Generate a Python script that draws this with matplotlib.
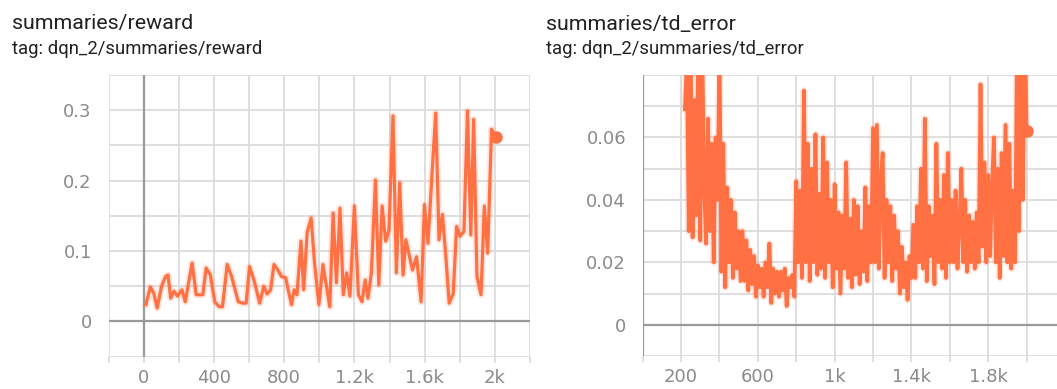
import numpy as np
import matplotlib
matplotlib.use('Agg')
import matplotlib.pyplot as plt
from matplotlib.ticker import FixedLocator, FixedFormatter

plt.rcParams['font.family'] = ['Roboto', 'DejaVu Sans']

# reward panel (smoothed curve)
reward_steps = [13, 38, 58, 77, 102, 125, 139, 154, 173, 193, 218, 237, 276, 299, 337,
                356, 380, 405, 430, 449, 476, 501, 539, 565, 584, 603, 630, 661, 684, 703,
                723, 742, 765, 784, 809, 823, 842, 857, 873, 896, 911, 931, 954, 973, 998,
                1021, 1060, 1079, 1098, 1118, 1137, 1156, 1175, 1200, 1223, 1243, 1262, 1277,
                1297, 1320, 1339, 1358, 1378, 1397, 1420, 1439, 1458, 1477, 1493, 1531, 1554,
                1580, 1599, 1619, 1638, 1663, 1682, 1701, 1720, 1740, 1763, 1782, 1801, 1824,
                1844, 1863, 1879, 1898, 1921, 1940, 1959, 1981, 2004]
reward_vals = [0.024, 0.049, 0.040, 0.019, 0.050, 0.064, 0.066, 0.033, 0.043, 0.036, 0.045,
               0.028, 0.083, 0.038, 0.038, 0.076, 0.066, 0.028, 0.021, 0.021, 0.081, 0.064,
               0.028, 0.026, 0.026, 0.078, 0.057, 0.026, 0.050, 0.039, 0.045, 0.081, 0.073,
               0.064, 0.062, 0.045, 0.024, 0.045, 0.038, 0.114, 0.045, 0.126, 0.147, 0.083,
               0.024, 0.081, 0.021, 0.154, 0.055, 0.161, 0.038, 0.069, 0.036, 0.164, 0.038,
               0.028, 0.059, 0.033, 0.069, 0.201, 0.052, 0.164, 0.114, 0.130, 0.292, 0.069,
               0.197, 0.066, 0.116, 0.073, 0.092, 0.028, 0.166, 0.111, 0.192, 0.296, 0.116,
               0.152, 0.095, 0.026, 0.040, 0.135, 0.121, 0.128, 0.299, 0.123, 0.287, 0.064,
               0.038, 0.164, 0.097, 0.273, 0.262]

# td_error panel, one value every 10 steps from 220 to 2000
td_steps = list(range(220, 2001, 10))
td_vals = [
    0.069, 0.085, 0.030, 0.090, 0.028, 0.072, 0.035, 0.095, 0.027, 0.090,   # 220-310
    0.045, 0.026, 0.066, 0.030, 0.058, 0.020, 0.060, 0.040, 0.088, 0.017,   # 320-410
    0.058, 0.012, 0.044, 0.020, 0.040, 0.015, 0.036, 0.018, 0.030, 0.014,   # 420-510
    0.030, 0.014, 0.027, 0.011, 0.024, 0.013, 0.022, 0.009, 0.019, 0.012,   # 520-610
    0.018, 0.009, 0.020, 0.012, 0.026, 0.007, 0.018, 0.010, 0.017, 0.009,   # 620-710
    0.017, 0.011, 0.018, 0.006, 0.015, 0.012, 0.016, 0.009, 0.046, 0.020,   # 720-810
    0.043, 0.015, 0.075, 0.020, 0.058, 0.014, 0.050, 0.020, 0.061, 0.016,   # 820-910
    0.042, 0.018, 0.060, 0.015, 0.052, 0.020, 0.040, 0.012, 0.045, 0.018,   # 920-1010
    0.036, 0.010, 0.035, 0.018, 0.052, 0.015, 0.034, 0.012, 0.040, 0.016,   # 1020-1110
    0.038, 0.013, 0.030, 0.017, 0.044, 0.014, 0.038, 0.020, 0.063, 0.020,   # 1120-1210
    0.064, 0.018, 0.045, 0.055, 0.015, 0.040, 0.020, 0.038, 0.014, 0.035,   # 1220-1310
    0.018, 0.030, 0.010, 0.025, 0.012, 0.020, 0.008, 0.022, 0.015, 0.032,   # 1320-1410
    0.015, 0.038, 0.020, 0.050, 0.018, 0.066, 0.014, 0.038, 0.022, 0.035,   # 1420-1510
    0.013, 0.058, 0.020, 0.040, 0.018, 0.048, 0.015, 0.055, 0.020, 0.040,   # 1520-1610
    0.020, 0.043, 0.018, 0.032, 0.050, 0.020, 0.040, 0.017, 0.035, 0.020,   # 1620-1710
    0.033, 0.018, 0.036, 0.020, 0.077, 0.025, 0.052, 0.020, 0.048, 0.022,   # 1720-1810
    0.045, 0.060, 0.020, 0.050, 0.015, 0.055, 0.022, 0.064, 0.020, 0.058,   # 1820-1910
    0.018, 0.043, 0.020, 0.090, 0.030, 0.100, 0.040, 0.095, 0.062,          # 1920-2000
]

line_color = '#ff7043'
W, H = 1057, 389
fig = plt.figure(figsize=(W / 100, H / 100), dpi=100)


def setup(ax, xlim, ylim, xmajor, xlabels, xminor, ymajor, ylabels, yminor):
    ax.set_xlim(*xlim)
    ax.set_ylim(*ylim)
    ax.xaxis.set_major_locator(FixedLocator(xmajor))
    ax.xaxis.set_major_formatter(FixedFormatter(xlabels))
    ax.xaxis.set_minor_locator(FixedLocator(xminor))
    ax.yaxis.set_major_locator(FixedLocator(ymajor))
    ax.yaxis.set_major_formatter(FixedFormatter(ylabels))
    ax.yaxis.set_minor_locator(FixedLocator(yminor))
    for s in ax.spines.values():
        s.set_visible(False)
    ax.grid(True, which='both', color='#dcdcdc', lw=1.3)
    ax.set_axisbelow(True)
    ax.tick_params(axis='x', which='both', length=4, color='#dcdcdc', width=1.3,
                   labelsize=13, labelcolor='#8a8a8a', pad=5)
    ax.tick_params(axis='y', which='both', length=0, labelsize=13,
                   labelcolor='#8a8a8a', pad=12)
    for lab in ax.get_xticklabels() + ax.get_yticklabels():
        lab.set_family('DejaVu Sans')
    ax.axhline(0, color='#9a9a9a', lw=1.6, zorder=1)
    ax.axvline(0, color='#9a9a9a', lw=1.6, zorder=1)


# left panel
ax1 = fig.add_axes([108.5 / W, 1 - 356.7 / H, (530 - 108.5) / W, (356.7 - 75) / H])
setup(ax1, (-200, 2200), (-0.05, 0.35),
      [0, 400, 800, 1200, 1600, 2000], ['0', '400', '800', '1.2k', '1.6k', '2k'],
      list(range(-200, 2201, 200)),
      [0, 0.1, 0.2, 0.3], ['0', '0.1', '0.2', '0.3'],
      list(np.arange(-0.05, 0.351, 0.05)))
ax1.plot(reward_steps, reward_vals, color=line_color, lw=5, alpha=0.18, zorder=2)
ax1.plot(reward_steps, reward_vals, color=line_color, lw=2.3, zorder=3)
ax1.plot(reward_steps[-1], reward_vals[-1], 'o', color=line_color, ms=8, zorder=4)

# right panel
ax2 = fig.add_axes([642.7 / W, 1 - 356 / H, (1065 - 642.7) / W, (356 - 75) / H])
setup(ax2, (0, 2200), (-0.01, 0.08),
      [200, 600, 1000, 1400, 1800], ['200', '600', '1k', '1.4k', '1.8k'],
      list(range(0, 2201, 200)),
      [0, 0.02, 0.04, 0.06], ['0', '0.02', '0.04', '0.06'],
      list(np.arange(-0.01, 0.0801, 0.01)))
ax2.plot(td_steps, td_vals, color=line_color, lw=5, alpha=0.18, zorder=2)
ax2.plot(td_steps, td_vals, color=line_color, lw=2.7, zorder=3)
ax2.plot(td_steps[-1], td_vals[-1], 'o', color=line_color, ms=8, zorder=4,
         clip_on=False)

# titles
fig.text(12 / W, 1 - 29.5 / H, 'summaries/reward', fontsize=15.4, color='#212121')
fig.text(12 / W, 1 - 54 / H, 'tag: dqn_2/summaries/reward', fontsize=13.3, color='#212121')
fig.text(546 / W, 1 - 29.5 / H, 'summaries/td_error', fontsize=15.4, color='#212121')
fig.text(546 / W, 1 - 54 / H, 'tag: dqn_2/summaries/td_error', fontsize=13.3, color='#212121')

fig.savefig('out.png', dpi=100)
